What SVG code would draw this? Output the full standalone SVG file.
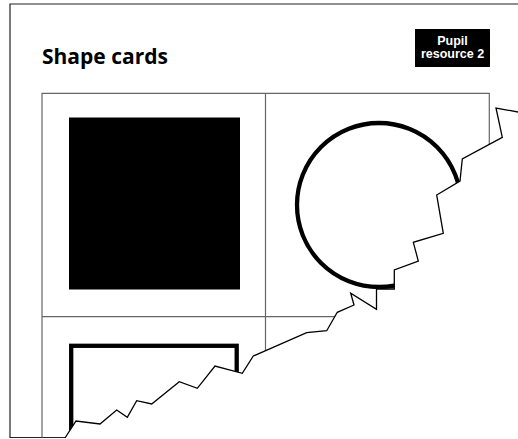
<svg xmlns="http://www.w3.org/2000/svg" width="518" height="439" viewBox="0 0 518 439">
<style>
.frame{fill:none;stroke:#222;stroke-width:1.2}
.grid{fill:none;stroke:#666;stroke-width:1.2}
.tear{fill:none;stroke:#000;stroke-width:1.3;stroke-linejoin:miter}
.shape{fill:none;stroke:#000;stroke-width:4.3}
.title{font-family:"Open Sans","Liberation Sans",sans-serif;font-weight:bold;font-size:21px;fill:#000}
.badge{font-family:"Liberation Sans",Arial,sans-serif;font-weight:bold;font-size:12.5px;fill:#fff;text-anchor:middle}
</style>
<defs>
<clipPath id="paper">
<polygon points="10,4 518,4 518,112 496,108 502.3,137.3 462.3,159 460,181 436.7,195 443.3,233.3 413.3,242.3 418.3,261 394.3,270 394.3,289 376.5,289 376.5,309.3 350.7,293.3 354,305 337.3,312.3 326.7,330.7 306.7,332.7 253.3,356 242.3,373.3 215,366 197.3,388.3 179.3,381.7 151.7,404 136.7,400.7 127.3,417.3 116.7,410 100,424 76,421 65,438 10,438"/>
</clipPath>
</defs>
<rect width="518" height="439" fill="#fff"/>
<g id="frame">
<polyline class="frame" points="518,4 10,4 10,437.5 65,437.5"/>
</g>
<g id="title">
<text class="title" x="42" y="63.5">Shape cards</text>
</g>
<g id="badge">
<rect x="415" y="29" width="75" height="38" fill="#000"/>
<text class="badge" x="452.5" y="45">Pupil</text>
<text class="badge" x="452.5" y="58">resource 2</text>
</g>
<g id="cards" clip-path="url(#paper)">
<polyline class="grid" points="42,437.5 42,93.3 489.3,93.3 489.3,150"/>
<line class="grid" x1="265.5" y1="93.3" x2="265.5" y2="360"/>
<line class="grid" x1="42" y1="316.7" x2="340" y2="316.7"/>
</g>
<g id="square">
<rect x="69" y="117.5" width="171" height="172" fill="#000"/>
</g>
<g id="circle" clip-path="url(#paper)">
<circle class="shape" cx="379" cy="205" r="82"/>
</g>
<g id="rectangle" clip-path="url(#paper)">
<rect class="shape" x="71.2" y="345.8" width="165.5" height="120"/>
</g>
<g id="torn-edge">
<polyline class="tear" points="518,112 496,108 502.3,137.3 462.3,159 460,181 436.7,195 443.3,233.3 413.3,242.3 418.3,261 394.3,270 394.3,289 376.5,289 376.5,309.3 350.7,293.3 354,305 337.3,312.3 326.7,330.7 306.7,332.7 253.3,356 242.3,373.3 215,366 197.3,388.3 179.3,381.7 151.7,404 136.7,400.7 127.3,417.3 116.7,410 100,424 76,421 65,438"/>
</g>
</svg>
